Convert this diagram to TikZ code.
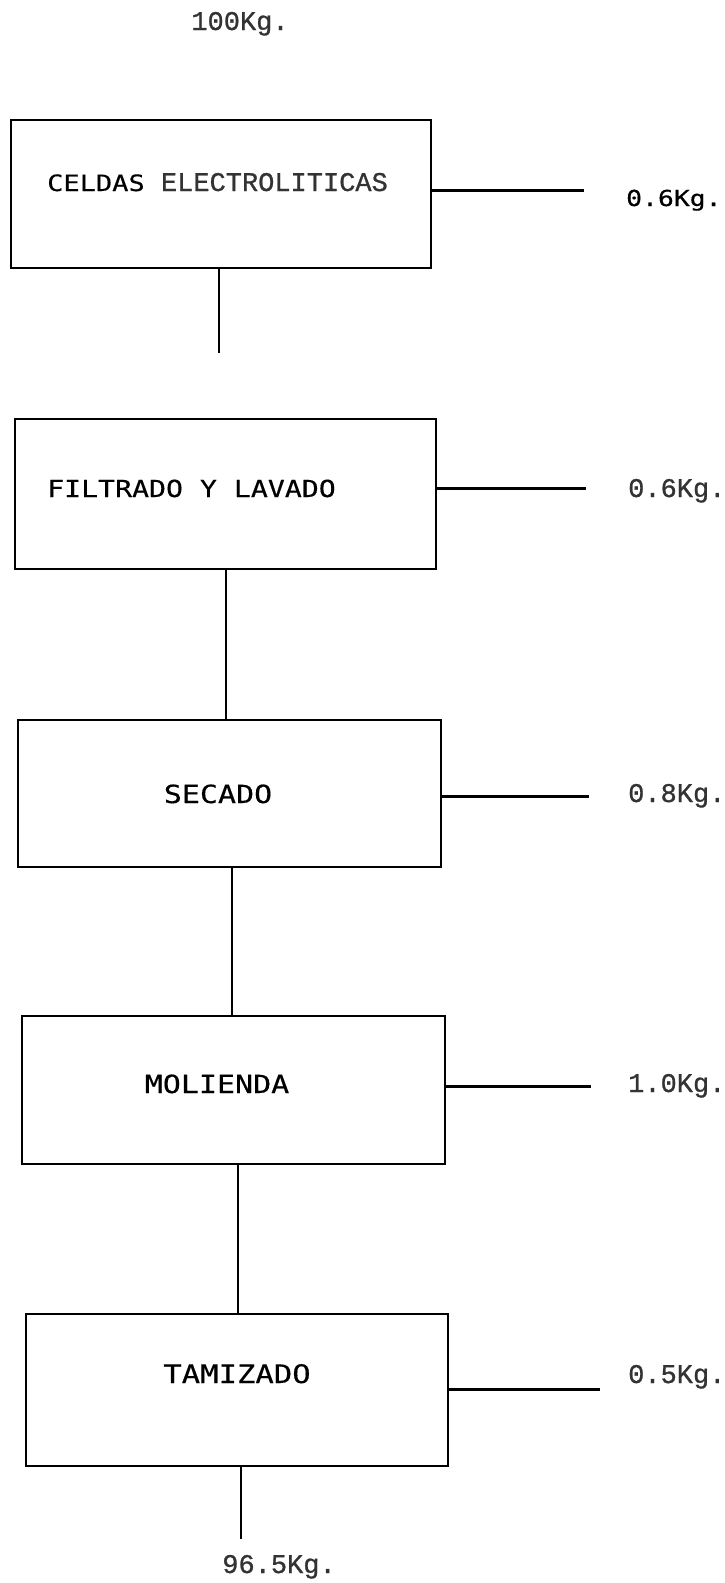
\documentclass[tikz,border=0pt]{standalone}
\usepackage{fontspec}
\newfontfamily\smono[FakeStretch=1.2,FakeBold=0.4]{DejaVu Sans Mono}
\newfontfamily\cour[FakeBold=0.9]{Liberation Mono}
\begin{document}
\begin{tikzpicture}[x=1pt,y=-1pt,
  box/.style={draw, line width=2pt, inner sep=0pt, anchor=north west},
  side/.style={line width=3pt},
  conn/.style={line width=2pt},
  thinconn/.style={line width=1.4pt},
  ttl/.style={inner sep=0pt, anchor=base west},
  ctl/.style={inner sep=0pt, anchor=base},
  sm/.style={font=\smono\fontsize{#1}{#1}\selectfont},
  tw/.style={font=\cour\fontsize{27}{27}\selectfont, text=black!80}]
\useasboundingbox (0,0) rectangle (724,1583);

% boxes
\node[box, minimum width=420pt, minimum height=148pt] (b1) at (10,119) {};
\node[box, minimum width=421pt, minimum height=150pt] (b2) at (14,418) {};
\node[box, minimum width=423pt, minimum height=147pt] (b3) at (17,719) {};
\node[box, minimum width=423pt, minimum height=148pt] (b4) at (21,1015) {};
\node[box, minimum width=422pt, minimum height=152pt] (b5) at (25,1313) {};

% box texts
\node[ttl, sm=22.5] (t1) at (47,191) {CELDAS {\cour\fontsize{27}{27}\selectfont\color{black!80}ELECTROLITICAS}};
\node[ttl, sm=23.5] (t2) at (47,497) {FILTRADO Y LAVADO};
\node[ctl, sm=25] (t3) at (218,803) {SECADO};
\node[ctl, sm=25] (t4) at (217,1093) {MOLIENDA};
\node[ctl, sm=25.5] (t5) at (237,1383) {TAMIZADO};

% quantities
\node[ctl, tw] (qin) at (240,30) {100Kg.};
\node[ttl, sm=22] (q1) at (626,206) {0.6Kg.};
\node[ttl, tw] (q2) at (628,497) {0.6Kg.};
\node[ttl, tw] (q3) at (628,802) {0.8Kg.};
\node[ttl, tw] (q4) at (628,1092) {1.0Kg.};
\node[ttl, tw] (q5) at (628,1383) {0.5Kg.};
\node[ctl, tw] (qout) at (279,1573) {96.5Kg.};

% side outlets
\coordinate (e1) at (584,190);
\coordinate (e2) at (586,488);
\coordinate (e3) at (589,796);
\coordinate (e4) at (591,1086);
\coordinate (e5) at (600,1389);
\draw[side] (b1.east |- e1) -- (e1);
\draw[side] (b2.east |- e2) -- (e2);
\draw[side] (b3.east |- e3) -- (e3);
\draw[side] (b4.east |- e4) -- (e4);
\draw[side] (b5.east |- e5) -- (e5);

% vertical connectors
\coordinate (d1) at (219,353);
\draw[thinconn] (b1.south -| d1) -- (d1);
\draw[conn] (b2.south) -- (b2.south |- b3.north);
\draw[conn] ([xshift=2pt]b3.south) -- ([xshift=2pt]b3.south |- b4.north);
\draw[conn] ([xshift=4pt]b4.south) -- ([xshift=4pt]b4.south |- b5.north);
\coordinate (d5) at (241,1539);
\draw[conn] (b5.south -| d5) -- (d5);
\end{tikzpicture}
\end{document}
